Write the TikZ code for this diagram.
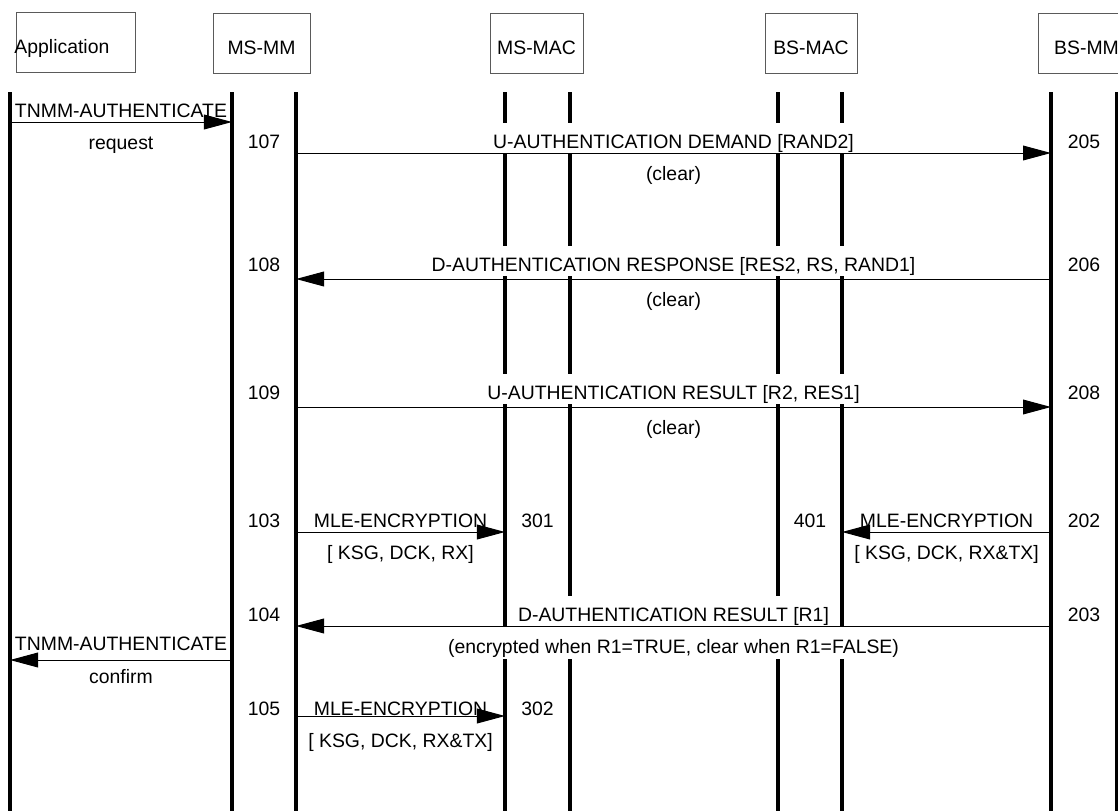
\documentclass[tikz,border=0pt]{standalone}
\usepackage{fontspec}
\setmainfont{Liberation Sans}
\usetikzlibrary{arrows.meta,calc}
\definecolor{boxgray}{RGB}{90,90,90}

\begin{document}
\begin{tikzpicture}[
        x=0.025cm, y=-0.025cm,
        font=\fontsize{13.8}{16}\selectfont,
        actor/.style={draw=boxgray, line width=0.6pt, minimum height=1.5cm, inner sep=0pt,
            text height=0.66cm, text depth=0.1cm},
        lifeline/.style={line width=2.2pt},
        msg/.style={line width=0.7pt, -{Triangle[length=0.7cm, width=0.37cm]}},
        msgtop/.style={anchor=south, fill=white, inner sep=0pt, text height=0.65cm, text depth=0.1cm},
        msgbot/.style={anchor=north, fill=white, inner sep=0pt, text height=0.69cm, text depth=0.12cm},
        seqno/.style={anchor=south, inner sep=0pt, text height=0.4cm, text depth=0.1cm}
    ]
    \useasboundingbox (0,0) rectangle (1118,811);
    % entities
    \node[actor, minimum width=2.975cm] (app) at (75.5,42) {};
    \node[actor, draw=none, anchor=west] (apptxt) at (14,42) {Application};
    \node[actor, minimum width=2.425cm] (msmm) at (261.5,43) {MS-MM};
    \node[actor, minimum width=2.325cm] (msmac) at (536.5,43) {MS-MAC};
    \node[actor, minimum width=2.3cm] (bsmac) at (811,43) {BS-MAC};
    \node[actor, minimum width=2.425cm] (bsmm) at (1086.5,43) {BS-MM};
    % lifelines
    \foreach \n/\x in {appR/10, mmL/232, mmR/296, macL/505, macR/570,
                       bmacL/778, bmacR/842, bmmL/1051, bmmR/1117}{
        \coordinate (\n) at (\x,92);
        \draw[lifeline] (\n) -- (\x,811);
    }
    % message rows
    \coordinate (r1) at (0,122);
    \coordinate (r2) at (0,153);
    \coordinate (r3) at (0,279);
    \coordinate (r4) at (0,407);
    \coordinate (r5) at (0,532);
    \coordinate (r6) at (0,626);
    \coordinate (r7) at (0,660);
    \coordinate (r8) at (0,716);

    % TNMM request
    \node[msgtop] (t1) at ($(appR |- r1)!.5!(mmL |- r1)$) {TNMM-AUTHENTICATE};
    \node[msgbot] (b1) at ($(appR |- r1)!.5!(mmL |- r1)$) {request};
    \draw[msg] (appR |- r1) -- (mmL |- r1);

    % U-AUTHENTICATION DEMAND
    \node[seqno] (n107) at ($(mmL |- r2)!.5!(mmR |- r2)$) {107};
    \node[seqno] (n205) at ($(bmmL |- r2)!.5!(bmmR |- r2)$) {205};
    \node[msgtop] (t2) at ($(mmR |- r2)!.5!(bmmL |- r2)$) {U-AUTHENTICATION DEMAND [RAND2]};
    \node[msgbot] (b2) at ($(mmR |- r2)!.5!(bmmL |- r2)$) {(clear)};
    \draw[msg] (mmR |- r2) -- (bmmL |- r2);

    % D-AUTHENTICATION RESPONSE
    \node[seqno, yshift=0.08cm] (n108) at ($(mmL |- r3)!.5!(mmR |- r3)$) {108};
    \node[seqno, yshift=0.08cm] (n206) at ($(bmmL |- r3)!.5!(bmmR |- r3)$) {206};
    \node[msgtop, yshift=0.08cm] (t3) at ($(mmR |- r3)!.5!(bmmL |- r3)$) {D-AUTHENTICATION RESPONSE [RES2, RS, RAND1]};
    \node[msgbot] (b3) at ($(mmR |- r3)!.5!(bmmL |- r3)$) {(clear)};
    \draw[msg] (bmmL |- r3) -- (mmR |- r3);

    % U-AUTHENTICATION RESULT
    \node[seqno, yshift=0.08cm] (n109) at ($(mmL |- r4)!.5!(mmR |- r4)$) {109};
    \node[seqno, yshift=0.08cm] (n208) at ($(bmmL |- r4)!.5!(bmmR |- r4)$) {208};
    \node[msgtop, yshift=0.08cm] (t4) at ($(mmR |- r4)!.5!(bmmL |- r4)$) {U-AUTHENTICATION RESULT [R2, RES1]};
    \node[msgbot] (b4) at ($(mmR |- r4)!.5!(bmmL |- r4)$) {(clear)};
    \draw[msg] (mmR |- r4) -- (bmmL |- r4);

    % MLE-ENCRYPTION on both sides
    \node[seqno] (n103) at ($(mmL |- r5)!.5!(mmR |- r5)$) {103};
    \node[seqno] (n301) at ($(macL |- r5)!.5!(macR |- r5)$) {301};
    \node[seqno] (n401) at ($(bmacL |- r5)!.5!(bmacR |- r5)$) {401};
    \node[seqno] (n202) at ($(bmmL |- r5)!.5!(bmmR |- r5)$) {202};
    \node[msgtop] (t5a) at ($(mmR |- r5)!.5!(macL |- r5)$) {MLE-ENCRYPTION};
    \node[msgbot] (b5a) at ($(mmR |- r5)!.5!(macL |- r5)$) {[ KSG, DCK, RX]};
    \node[msgtop] (t5b) at ($(bmacR |- r5)!.5!(bmmL |- r5)$) {MLE-ENCRYPTION};
    \node[msgbot] (b5b) at ($(bmacR |- r5)!.5!(bmmL |- r5)$) {[ KSG, DCK, RX\&TX]};
    \draw[msg] (mmR |- r5) -- (macL |- r5);
    \draw[msg] (bmmL |- r5) -- (bmacR |- r5);

    % D-AUTHENTICATION RESULT
    \node[seqno] (n104) at ($(mmL |- r6)!.5!(mmR |- r6)$) {104};
    \node[seqno] (n203) at ($(bmmL |- r6)!.5!(bmmR |- r6)$) {203};
    \node[msgtop] (t6) at ($(mmR |- r6)!.5!(bmmL |- r6)$) {D-AUTHENTICATION RESULT [R1]};
    \node[msgbot] (b6) at ($(mmR |- r6)!.5!(bmmL |- r6)$) {(encrypted when R1=TRUE, clear when R1=FALSE)};
    \draw[msg] (bmmL |- r6) -- (mmR |- r6);

    % TNMM confirm
    \node[msgtop, yshift=0.12cm] (t7) at ($(appR |- r7)!.5!(mmL |- r7)$) {TNMM-AUTHENTICATE};
    \node[msgbot, yshift=0.1cm] (b7) at ($(appR |- r7)!.5!(mmL |- r7)$) {confirm};
    \draw[msg] (mmL |- r7) -- (appR |- r7);

    % MLE-ENCRYPTION (RX&TX)
    \node[seqno, yshift=-0.1cm] (n105) at ($(mmL |- r8)!.5!(mmR |- r8)$) {105};
    \node[seqno, yshift=-0.1cm] (n302) at ($(macL |- r8)!.5!(macR |- r8)$) {302};
    \node[msgtop, yshift=-0.1cm] (t8) at ($(mmR |- r8)!.5!(macL |- r8)$) {MLE-ENCRYPTION};
    \node[msgbot, yshift=-0.1cm] (b8) at ($(mmR |- r8)!.5!(macL |- r8)$) {[ KSG, DCK, RX\&TX]};
    \draw[msg] (mmR |- r8) -- (macL |- r8);
\end{tikzpicture}
\end{document}
